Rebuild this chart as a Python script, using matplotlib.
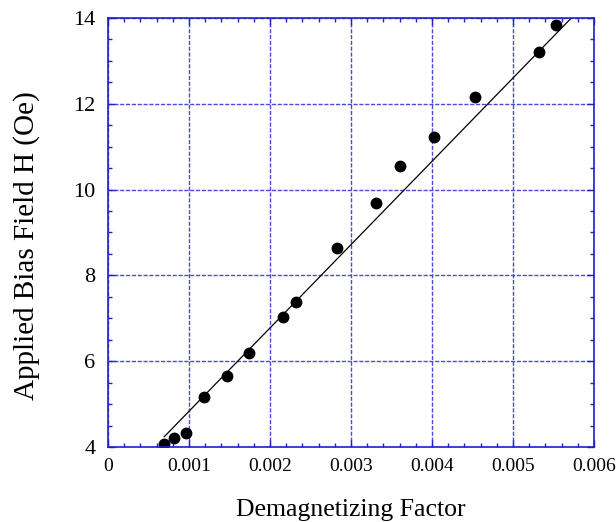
import matplotlib.pyplot as plt
import matplotlib.ticker as ticker

# measured points
demag = [0.000695, 0.000819, 0.000967, 0.00119, 0.00147, 0.00174, 0.00216,
         0.00232, 0.00283, 0.00331, 0.00361, 0.00402, 0.00453, 0.00532, 0.00553]
field = [4.07, 4.20, 4.33, 5.17, 5.65, 6.20, 7.03,
         7.37, 8.65, 9.68, 10.54, 11.22, 12.17, 13.21, 13.84]

# straight-line fit as drawn
fit_x = [0.000695, 0.00572]
fit_y = [4.24, 14.0]

plt.rcParams['font.family'] = ['Liberation Serif', 'DejaVu Serif']

fig = plt.figure(figsize=(6.16, 5.22), dpi=100)
ax = fig.add_axes([0.1753, 0.1437, 0.789, 0.8218])

blue = '#2020c8'
ax.grid(True, which='major', color='#4a4ae0', linestyle=(0, (3, 1.2)), linewidth=1.0)
ax.set_axisbelow(True)

ax.plot(fit_x, fit_y, color='black', linewidth=0.9)
ax.plot(demag, field, 'o', color='black', markersize=7.5)

ax.set_xlim(0, 0.006)
ax.set_ylim(4, 14)
ax.xaxis.set_major_locator(ticker.MultipleLocator(0.001))
ax.xaxis.set_minor_locator(ticker.MultipleLocator(0.0002))
ax.yaxis.set_major_locator(ticker.MultipleLocator(2))
ax.yaxis.set_minor_locator(ticker.MultipleLocator(0.5))
ax.xaxis.set_major_formatter(ticker.FuncFormatter(lambda v, p: '0' if abs(v) < 1e-12 else '%g' % round(v, 4)))

ax.tick_params(which='both', direction='in', top=True, right=True, colors=blue,
               labelcolor='black')
ax.tick_params(which='major', length=5, width=1)
ax.tick_params(which='minor', length=3, width=1)
ax.tick_params(axis='x', pad=8, labelsize=14)
ax.tick_params(axis='y', pad=9, labelsize=16)
for s in ax.spines.values():
    s.set_color(blue)
    s.set_linewidth(1.2)

ax.set_xlabel('Demagnetizing Factor', fontsize=18.5)
ax.set_ylabel('Applied Bias Field H (Oe)', fontsize=21)
ax.xaxis.set_label_coords(0.5, -0.122)
ax.yaxis.set_label_coords(-0.14, 0.47)

fig.savefig('out.png', dpi=100)
